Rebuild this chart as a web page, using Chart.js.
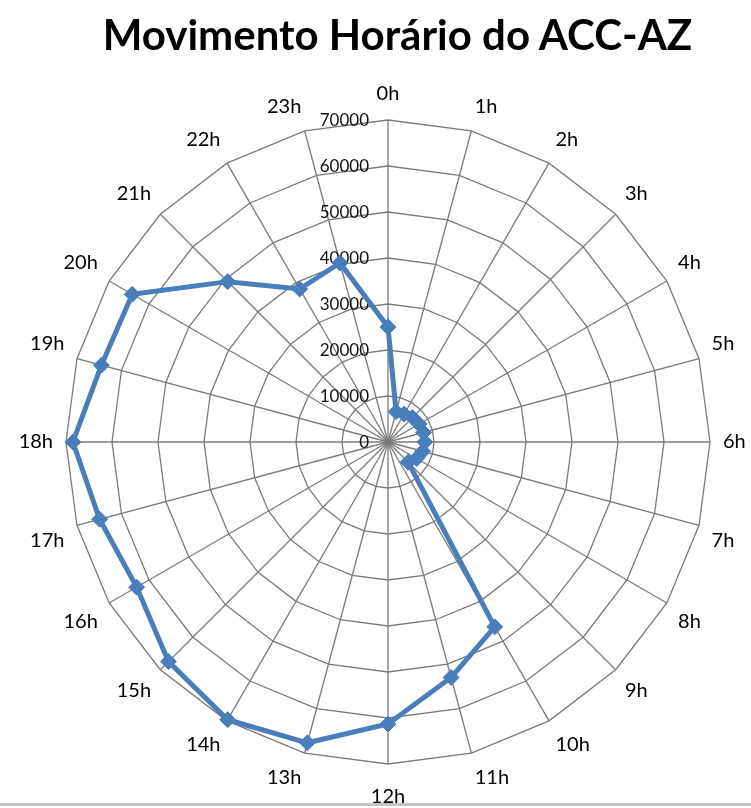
<!DOCTYPE html>
<html>
<head>
<meta charset="utf-8">
<title>Movimento Horário do ACC-AZ</title>
<script src="https://cdn.jsdelivr.net/npm/chart.js@4"></script>
<style>
  html, body {
    margin: 0;
    padding: 0;
    background: #ffffff;
    overflow: hidden;
    width: 751px;
    height: 808px;
  }
  .chart-title {
    position: absolute;
    top: 13px;
    left: 0;
    width: 795px;
    text-align: center;
    font-family: "Lato", sans-serif;
    font-weight: bold;
    font-size: 42px;
    line-height: 42px;
    color: #000000;
    white-space: nowrap;
  }
  .chart-canvas {
    position: absolute;
    top: 0;
    left: 0;
  }
  .bottom-rule {
    position: absolute;
    left: 0;
    top: 803px;
    width: 751px;
    height: 3px;
    background: #c4c4c4;
  }
  .bottom-blank {
    position: absolute;
    left: 0;
    top: 806px;
    width: 751px;
    height: 2px;
    background: #ffffff;
  }
</style>
</head>
<body>
<canvas class="chart-canvas" id="radar" width="766" height="820"></canvas>
<div class="chart-title">Movimento Horário do ACC-AZ</div>
<div class="bottom-rule"></div>
<div class="bottom-blank"></div>
<script>
const hours = [
  "0h", "1h", "2h", "3h", "4h", "5h", "6h", "7h", "8h", "9h", "10h", "11h",
  "12h", "13h", "14h", "15h", "16h", "17h", "18h", "19h", "20h", "21h", "22h", "23h"
];

// movimentos por hora
const movimentos = [
  25000, 6800, 7000, 7500, 7800, 8000, 8000, 7800, 7200, 6200, 46400, 53000,
  61300, 67700, 69700, 67500, 63100, 64900, 68500, 64500, 64200, 49300, 38400, 40300
];

const tickValues = [0, 10000, 20000, 30000, 40000, 50000, 60000, 70000];

const lineColor = "#4A7EBB";
const gridColor = "#7a7a7a";

// rotulos do eixo radial desenhados a esquerda do eixo 0h
const tickLabels = {
  id: "tickLabels",
  beforeDatasetsDraw(chart) {
    const scale = chart.scales.r;
    const ctx = chart.ctx;
    ctx.save();
    ctx.font = '17px "Lato", sans-serif';
    ctx.fillStyle = "#111111";
    ctx.textAlign = "right";
    ctx.textBaseline = "middle";
    tickValues.forEach(function (value) {
      const dist = scale.getDistanceFromCenterForValue(value);
      ctx.fillText(String(value), scale.xCenter - 19, scale.yCenter - dist + 1);
    });
    ctx.restore();
  },
};

const ctx = document.getElementById("radar").getContext("2d");

const radarChart = new Chart(ctx, {
  type: "radar",
  data: {
    labels: hours,
    datasets: [
      {
        label: "Movimento",
        data: movimentos,
        borderColor: lineColor,
        backgroundColor: lineColor,
        borderWidth: 5,
        fill: false,
        tension: 0,
        pointStyle: "rectRot",
        pointRadius: 8,
        pointBackgroundColor: lineColor,
        pointBorderColor: lineColor,
        pointBorderWidth: 1,
      },
    ],
  },
  options: {
    responsive: false,
    animation: false,
    devicePixelRatio: 1,
    layout: {
      padding: { top: 79, bottom: 7, left: 0, right: 0 },
    },
    plugins: {
      legend: { display: false },
      title: { display: false },
      tooltip: { enabled: false },
    },
    scales: {
      r: {
        min: tickValues[0],
        max: tickValues[tickValues.length - 1],
        ticks: {
          display: false,
          stepSize: 10000,
        },
        grid: {
          color: gridColor,
          lineWidth: 1.3,
          circular: false,
        },
        angleLines: {
          color: gridColor,
          lineWidth: 1.3,
        },
        pointLabels: {
          color: "#000000",
          font: { family: "Lato", size: 20 },
          padding: function (context) {
            if (context.index === 0) return 14;
            if (context.index === 12) return 21;
            return 13;
          },
        },
      },
    },
  },
  plugins: [tickLabels],
});
</script>
</body>
</html>
